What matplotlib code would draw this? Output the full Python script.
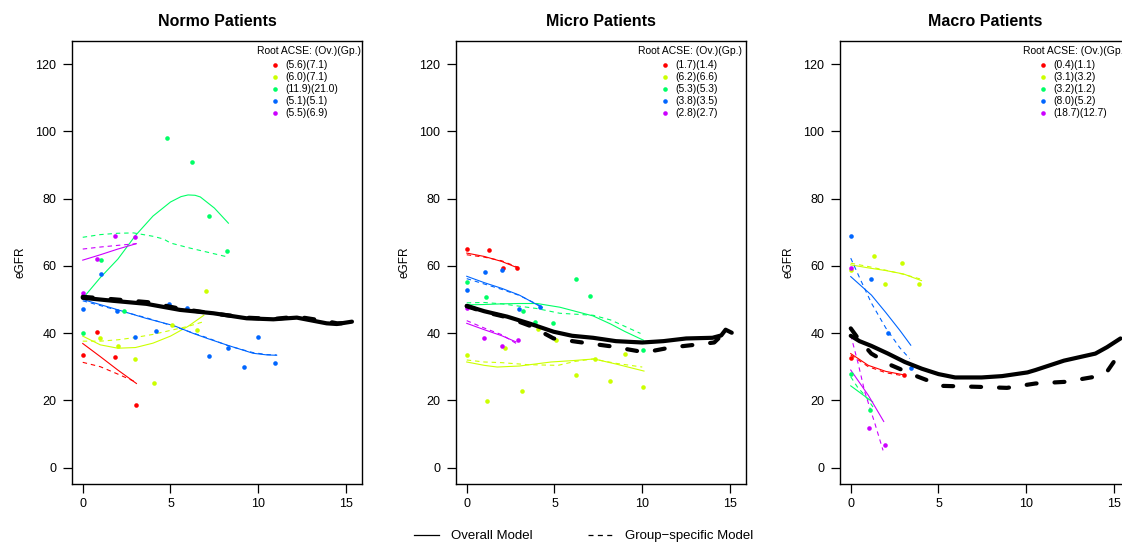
import matplotlib
matplotlib.use("Agg")
import matplotlib.pyplot as plt
from matplotlib.lines import Line2D

plt.rcParams['font.family'] = ['Liberation Sans', 'DejaVu Sans']

GROUP_COLORS = ['#FF0000', '#CCFF00', '#00FF66', '#0066FF', '#CC00FF']
PANEL_TITLES = ['Normo Patients', 'Micro Patients', 'Macro Patients']
KEY_TITLE = 'Root ACSE: (Ov.)(Gp.)'
X_TICKS = [0, 5, 10, 15]
Y_TICKS = [0, 20, 40, 60, 80, 100, 120]
BOTTOM_LABELS = ['Overall Model', 'Group\u2212specific Model']

# ---------------- Normo ----------------
normo_points = [
    ([0, 0.84, 1.83, 3.06], [33.4, 40.4, 32.9, 18.5]),
    ([0.97, 2.02, 2.97, 4.07, 5.08, 6.5, 7.04], [38.6, 36.2, 32.2, 25.1, 42.4, 40.9, 52.4]),
    ([0, 1.03, 2.36, 4.81, 6.24, 7.17, 8.2], [40.1, 61.6, 46.6, 98.1, 91.0, 74.9, 64.3]),
    ([0, 1.03, 1.94, 3.0, 4.19, 4.93, 5.94, 7.17, 8.26, 9.21, 10.01, 10.98],
     [47.3, 57.6, 46.6, 38.7, 40.7, 48.8, 47.4, 33.3, 35.7, 29.8, 38.8, 31.1]),
    ([0, 0.84, 1.83, 2.97], [52.0, 62.0, 69.0, 68.6]),
]
normo_overall = [
    ([0, 1, 2, 3.06], [36.9, 33.0, 29.0, 25.0]),
    ([0, 1, 2, 3, 4, 5, 6, 6.9], [39.1, 36.5, 35.5, 35.7, 37.0, 39.1, 42.0, 45.3]),
    ([0, 1, 2, 3, 4, 5, 5.6, 6, 6.4, 6.7, 7.5, 8.3],
     [50.3, 56.5, 62.0, 69.0, 74.8, 79.0, 80.6, 81.1, 81.0, 80.5, 77.2, 72.7]),
    ([0, 1.7, 3.6, 5.2, 6.3, 7.1, 8.3, 9.7, 10.5, 11.05],
     [50.0, 47.4, 44.4, 42.2, 39.9, 38.4, 36.3, 34.0, 33.5, 33.4]),
    ([0, 1, 2, 3.05], [61.7, 63.3, 65.0, 66.6]),
]
normo_group = [
    ([0, 1, 2, 3], [31.3, 30.0, 27.8, 25.5]),
    ([0, 1, 2, 3, 4, 5, 6, 6.9], [37.6, 37.6, 38.0, 38.7, 39.6, 40.8, 42.0, 43.4]),
    ([0, 1, 2, 2.9, 4, 4.6, 5, 6.1, 7, 8.3], [68.5, 69.3, 69.7, 69.8, 68.8, 68.0, 66.8, 65.3, 64.2, 62.6]),
    ([0, 1.7, 3.6, 5.2, 6.3, 7.1, 8.3, 9.7, 10.5, 11.05],
     [49.6, 47.2, 44.6, 42.0, 40.0, 38.6, 36.2, 34.2, 33.6, 33.5]),
    ([0, 1, 2, 3.05], [65.0, 65.6, 66.1, 66.6]),
]
normo_mean_overall = ([0, 1.73, 3.63, 5.54, 7.44, 9.34, 10.86, 12.2, 13.9, 14.48, 15.34],
                      [50.5, 49.6, 48.7, 46.9, 45.9, 44.4, 44.1, 44.6, 42.9, 42.7, 43.4])
normo_mean_group = ([0, 1.9, 3.7, 5.5, 7.2, 9.3, 10.9, 12.2, 13.9, 14.5, 15.3],
                    [50.8, 50.0, 49.2, 47.3, 46.0, 44.6, 44.2, 44.9, 43.5, 42.9, 43.0])
normo_rmse = ['(5.6)(7.1)', '(6.0)(7.1)', '(11.9)(21.0)', '(5.1)(5.1)', '(5.5)(6.9)']

# ---------------- Micro ----------------
micro_points = [
    ([0, 1.28, 2.06, 2.88], [65.1, 64.6, 59.3, 59.5]),
    ([0, 1.18, 2.16, 3.13, 4.07, 5.07, 6.2, 7.3, 8.15, 9.04, 10.02],
     [33.5, 19.9, 35.5, 22.8, 41.1, 37.9, 27.4, 32.2, 25.6, 33.8, 24.1]),
    ([0, 1.12, 3.19, 3.88, 4.91, 6.2, 7.02, 10.05], [55.3, 50.8, 46.6, 43.2, 43.0, 56.0, 51.0, 35.0]),
    ([0, 1.02, 2.02, 3.0, 4.16], [52.9, 58.2, 58.8, 47.2, 47.8]),
    ([0, 0.98, 1.99, 2.92], [47.4, 38.5, 36.2, 38.0]),
]
micro_overall = [
    ([0, 1, 2, 2.95], [63.8, 62.8, 61.3, 59.3]),
    ([0, 1, 1.74, 3, 4.8, 6, 7.25, 8.5, 10.1], [31.4, 30.4, 29.9, 30.2, 31.4, 31.8, 32.3, 30.8, 28.7]),
    ([0, 1, 2, 3, 4, 5.3, 7.2, 8.2, 9, 10.06], [48.4, 48.5, 48.7, 48.8, 48.8, 47.7, 45.1, 42.7, 40.5, 37.9]),
    ([0, 1, 2, 3, 4.3], [56.9, 55.0, 53.3, 51.3, 47.6]),
    ([0, 1, 2, 2.8], [42.9, 41.0, 39.2, 37.4]),
]
micro_group = [
    ([0, 1, 2, 2.95], [63.3, 62.6, 61.5, 59.5]),
    ([0, 1, 2, 3.5, 5.2, 6.2, 7.2, 8.5, 10], [32.0, 31.4, 31.2, 30.6, 30.4, 31.6, 32.3, 31.0, 29.9]),
    ([0, 1, 2, 3, 4, 5.3, 7.2, 8.2, 9.9], [49.0, 49.1, 48.7, 48.0, 47.3, 45.9, 45.3, 43.9, 39.9]),
    ([0, 1, 2, 3, 4.3], [56.2, 54.6, 53.0, 51.2, 47.8]),
    ([0, 1, 2, 2.98], [43.7, 41.5, 39.5, 36.4]),
]
micro_mean_overall = ([0, 1, 2.3, 3.6, 4.95, 6, 7.2, 8.5, 10, 11.2, 12.5, 14, 14.5, 14.75, 15.1],
                      [48.1, 46.5, 44.9, 42.8, 40.4, 39.2, 38.6, 37.6, 37.2, 37.6, 38.4, 38.6, 39.3, 41.0, 40.1])
micro_mean_group = ([0, 1, 2.3, 3.64, 4.95, 6.3, 8.16, 9.9, 10.5, 11.6, 13.3, 14.1, 14.84],
                    [48.0, 46.3, 44.7, 42.1, 38.4, 37.4, 36.1, 34.5, 34.6, 35.7, 36.7, 37.2, 40.9])
micro_rmse = ['(1.7)(1.4)', '(6.2)(6.6)', '(5.3)(5.3)', '(3.8)(3.5)', '(2.8)(2.7)']

# ---------------- Macro ----------------
macro_points = [
    ([0, 3.01], [32.7, 27.4]),
    ([0, 1.31, 1.96, 2.9, 3.9], [58.7, 62.8, 54.5, 61.0, 54.6]),
    ([0, 1.12], [27.9, 17.0]),
    ([0, 1.14, 2.13, 3.42], [68.9, 56.1, 39.9, 29.7]),
    ([0, 1.06, 1.95], [59.4, 11.8, 6.6]),
]
macro_overall = [
    ([0, 1, 2, 3.1], [33.9, 30.4, 28.6, 27.5]),
    ([0, 1, 2, 3, 4.03], [60.3, 59.4, 58.6, 57.6, 55.6]),
    ([0, 0.6, 1.25], [24.3, 22.0, 19.5]),
    ([0, 1.18, 2, 2.8, 3.42], [56.8, 51.3, 46.1, 40.8, 36.4]),
    ([0, 1, 1.88], [29.0, 21.5, 13.7]),
]
macro_group = [
    ([0, 1, 2, 3.1], [33.5, 30.0, 28.2, 27.2]),
    ([0, 1, 2, 3, 4.03], [60.8, 59.8, 58.7, 57.5, 56.0]),
    ([0, 0.4, 0.8, 1.27], [27.0, 23.8, 21.5, 18.0]),
    ([0, 0.5, 1.18, 2, 2.8, 3.36], [62.3, 56.5, 48.9, 41.5, 35.6, 32.4]),
    ([0, 0.42, 0.8, 1.37, 1.84], [39.4, 31.0, 22.5, 13.2, 5.1]),
]
macro_mean_overall = ([0, 0.5, 1.17, 2.12, 3.08, 4.05, 5.0, 5.95, 7.46, 8.62, 10.07, 10.52, 12.15, 13.94, 14.6, 15.37],
                      [39.2, 37.6, 36.2, 33.9, 31.4, 29.4, 27.8, 26.8, 26.8, 27.2, 28.3, 29.0, 31.8, 33.9, 35.8, 38.4])
macro_mean_group = ([0, 0.42, 1.17, 2.32, 3.84, 5.19, 7.28, 8.9, 10.52, 12.23, 14.13, 14.6, 15.18],
                    [41.4, 38.4, 33.9, 30.4, 27.0, 24.3, 24.0, 23.7, 25.0, 25.5, 27.2, 28.5, 32.9])
macro_rmse = ['(0.4)(1.1)', '(3.1)(3.2)', '(3.2)(1.2)', '(8.0)(5.2)', '(18.7)(12.7)']

# layout, in pixels of the 1122x544 canvas
W, H = 1122, 544
PANEL_LEFT = [72, 456, 840]
PANEL_W, PANEL_TOP, PANEL_BOTTOM = 290, 41, 484
KEY_TITLE_X = [309.5, 689.5, 1075]
KEY_DOT_X = [275, 665, 1043]


def fx(px):
    return px / W


def fy(py):
    return 1 - py / H


def draw_panel(fig, i, points, overall, group, mean_ov, mean_gp, rmse):
    ax = fig.add_axes([fx(PANEL_LEFT[i]), fy(PANEL_BOTTOM), PANEL_W / W,
                       (PANEL_BOTTOM - PANEL_TOP) / H])
    for c, (px, py), (ox, oy), (gx, gy) in zip(GROUP_COLORS, points, overall, group):
        ax.plot(px, py, ls='none', marker='o', ms=3.3, mew=0, color=c, zorder=3)
        ax.plot(ox, oy, color=c, lw=0.8, zorder=2)
        ax.plot(gx, gy, color=c, lw=0.8, dashes=(4, 3.5), zorder=2)
    ax.plot(*mean_ov, color='black', lw=3, solid_capstyle='round',
            solid_joinstyle='round', zorder=4)
    ax.plot(*mean_gp, color='black', lw=3, dashes=(2.4, 4.3),
            dash_capstyle='round', zorder=4)

    ax.set_xlim(-0.612, 15.912)
    ax.set_ylim(-4.9, 126.9)
    ax.set_xticks(X_TICKS)
    ax.set_yticks(Y_TICKS)
    ax.tick_params(length=6.3, width=0.9, labelsize=9, pad=3.5)
    ax.tick_params(axis='y', pad=5)
    for s in ax.spines.values():
        s.set_linewidth(1.0)
    ax.set_ylabel('eGFR', fontsize=8.5)
    ax.yaxis.set_label_coords(-0.158, 0.5)
    ax.set_title(PANEL_TITLES[i], fontsize=11.5, fontweight='bold', pad=11)

    # key with root ACSE values
    fig.text(fx(KEY_TITLE_X[i]), fy(50.7), KEY_TITLE, fontsize=7.5,
             ha='center', va='center')
    for k, (c, lab) in enumerate(zip(GROUP_COLORS, rmse)):
        yk = 65 + 12 * k
        fig.add_artist(Line2D([fx(KEY_DOT_X[i])], [fy(yk)], transform=fig.transFigure,
                              ls='none', marker='o', ms=3.3, mew=0, color=c))
        fig.text(fx(KEY_DOT_X[i] + 10), fy(yk), lab, fontsize=7.4,
                 ha='left', va='center')
    return ax


def main():
    fig = plt.figure(figsize=(W / 100, H / 100), dpi=100)
    panels = [
        (normo_points, normo_overall, normo_group, normo_mean_overall, normo_mean_group, normo_rmse),
        (micro_points, micro_overall, micro_group, micro_mean_overall, micro_mean_group, micro_rmse),
        (macro_points, macro_overall, macro_group, macro_mean_overall, macro_mean_group, macro_rmse),
    ]
    for i, p in enumerate(panels):
        draw_panel(fig, i, *p)

    handles = [Line2D([], [], color='black', lw=0.9),
               Line2D([], [], color='black', lw=0.9, dashes=(4, 3.5))]
    fig.legend(handles, BOTTOM_LABELS, loc='center left',
               bbox_to_anchor=(fx(414), fy(536)), ncol=2, frameon=False,
               fontsize=9.5, handlelength=1.9, handletextpad=0.9,
               columnspacing=4.2, borderpad=0, borderaxespad=0)
    fig.savefig('out.png', dpi=100)


if __name__ == '__main__':
    main()
